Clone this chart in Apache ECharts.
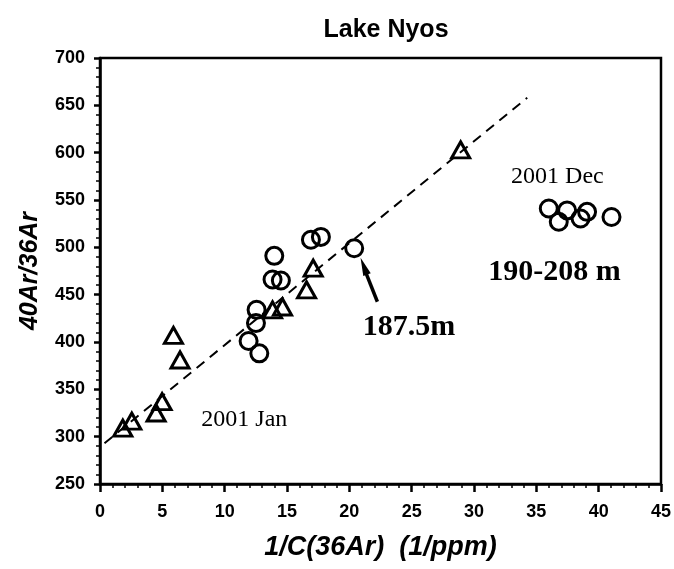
<!DOCTYPE html>
<html>
<head>
<meta charset="utf-8">
<script src="https://cdn.jsdelivr.net/npm/echarts@6/dist/echarts.min.js"></script>
<style>html,body{margin:0;padding:0;background:#fff;}#c{width:674px;height:569px;}</style>
</head>
<body>
<div id="c"></div>
<script>
// Data
var triangles = [
  [1.83, 309], [2.55, 316.5], [4.5, 325], [4.98, 337], [5.89, 407],
  [6.42, 381], [13.84, 434], [14.64, 437], [16.57, 455], [17.1, 478], [28.93, 603]
];
var circles = [
  [13.98, 491], [13.84, 466], [14.51, 465], [12.56, 434], [12.51, 420],
  [11.92, 401], [12.78, 388], [16.92, 508], [17.72, 511], [20.39, 499]
];
var decCircles = [
  [36.0, 541], [36.8, 527], [37.47, 539], [38.55, 530.5], [39.07, 537.5], [41.03, 532]
];
var fitLine = [[0.36, 293], [34.27, 658]];
var arrowShaft = [[22.25, 442.5], [21.3, 474]];
var arrowHead = [[21.16, 480]];
var annotations = [
  {value: [11.58, 317.6], name: '2001 Jan', bold: false, size: 24},
  {value: [36.69, 574.4], name: '2001 Dec', bold: false, size: 24},
  {value: [36.45, 474], name: '190-208 m', bold: true, size: 30},
  {value: [24.79, 416], name: '187.5m', bold: true, size: 30}
];
var xTicks = {min: 0, max: 45, interval: 5};
var yTicks = {min: 250, max: 700, interval: 50};

var chart = echarts.init(document.getElementById('c'), null, {renderer: 'canvas'});
var sans = '"Liberation Sans", Arial, sans-serif';
var serif = '"Liberation Serif", "Times New Roman", serif';
var hollow = {color: 'rgba(0,0,0,0)', borderColor: '#000', borderWidth: 3, opacity: 1};

chart.setOption({
  animation: false,
  backgroundColor: '#fff',
  title: {
    text: 'Lake Nyos', left: 381, top: 13, textAlign: 'center',
    textStyle: {fontFamily: sans, fontWeight: 'bold', fontSize: 25, color: '#000'}
  },
  grid: {left: 100, right: 12, top: 58, bottom: 85, show: true, borderColor: '#000', borderWidth: 2.5, backgroundColor: 'transparent'},
  xAxis: {
    type: 'value', min: xTicks.min, max: xTicks.max, interval: xTicks.interval,
    name: '1/C(36Ar)  (1/ppm)', nameLocation: 'middle', nameGap: 50,
    nameTextStyle: {fontFamily: sans, fontWeight: 'bold', fontStyle: 'italic', fontSize: 27, color: '#000'},
    axisLine: {show: true, onZero: false, lineStyle: {color: '#000', width: 2.5}},
    axisTick: {show: true, inside: false, length: 8, lineStyle: {color: '#000', width: 2.5}},
    minorTick: {show: true, splitNumber: 5, length: 4, lineStyle: {color: '#000', width: 1.5}},
    splitLine: {show: false},
    axisLabel: {margin: 19, fontFamily: sans, fontWeight: 'bold', fontSize: 18, color: '#000'}
  },
  yAxis: {
    type: 'value', min: yTicks.min, max: yTicks.max, interval: yTicks.interval,
    name: '40Ar/36Ar', nameLocation: 'middle', nameGap: 57, nameRotate: 90,
    nameTextStyle: {fontFamily: sans, fontWeight: 'bold', fontStyle: 'italic', fontSize: 25, color: '#000'},
    axisLine: {show: true, onZero: false, lineStyle: {color: '#000', width: 2.5}},
    axisTick: {show: true, inside: false, length: 6, lineStyle: {color: '#000', width: 2.5}},
    minorTick: {show: true, splitNumber: 5, length: 4, lineStyle: {color: '#000', width: 1.5}},
    splitLine: {show: false},
    axisLabel: {margin: 15, fontFamily: sans, fontWeight: 'bold', fontSize: 18, color: '#000'}
  },
  series: [
    {
      type: 'line', data: fitLine, symbol: 'none', silent: true,
      lineStyle: {color: '#000', width: 2, type: [10, 7]}, z: 1
    },
    {
      type: 'line', data: arrowShaft, symbol: 'none', silent: true,
      lineStyle: {color: '#000', width: 3.5}, z: 2
    },
    {
      type: 'scatter', data: arrowHead, symbol: 'triangle', symbolSize: [8, 18], symbolRotate: 21,
      itemStyle: {color: '#000', opacity: 1}, z: 2
    },
    {
      type: 'scatter', data: triangles, symbol: 'triangle', symbolSize: [18, 16],
      itemStyle: hollow, z: 3
    },
    {
      type: 'scatter', data: circles, symbol: 'circle', symbolSize: 17,
      itemStyle: hollow, z: 3
    },
    {
      type: 'scatter', data: decCircles, symbol: 'circle', symbolSize: 17,
      itemStyle: hollow, z: 3
    },
    {
      type: 'scatter', symbolSize: 0, silent: true, z: 4, itemStyle: {opacity: 1},
      data: annotations.map(function (a) {
        return {
          value: a.value, name: a.name,
          label: {
            show: true, position: 'inside', formatter: '{b}',
            fontFamily: serif, fontWeight: a.bold ? 'bold' : 'normal', fontSize: a.size, color: '#000'
          }
        };
      })
    }
  ]
});
</script>
</body>
</html>
